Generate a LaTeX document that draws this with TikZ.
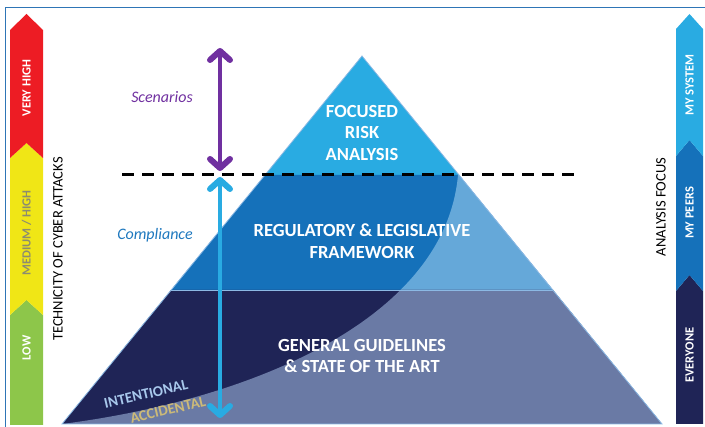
\documentclass[tikz,border=0pt]{standalone}
\usepackage{fontspec}
\setmainfont{Carlito}
\usepackage{tikz}
\usetikzlibrary{arrows.meta}
\usetikzlibrary{positioning}
\definecolor{framecol}{RGB}{46,117,182}
\definecolor{skyblue}{RGB}{41,171,226}
\definecolor{midblue}{RGB}{21,113,186}
\definecolor{midlight}{RGB}{101,168,217}
\definecolor{navy}{RGB}{31,36,86}
\definecolor{navylight}{RGB}{106,122,165}
\definecolor{edgecol}{RGB}{140,185,228}
\definecolor{barred}{RGB}{237,28,36}
\definecolor{baryellow}{RGB}{240,230,22}
\definecolor{bargreen}{RGB}{141,198,74}
\definecolor{medgray}{RGB}{140,140,112}
\definecolor{scencol}{RGB}{112,48,160}
\definecolor{compblue}{RGB}{30,120,190}
\definecolor{intcol}{RGB}{168,200,236}
\definecolor{acccol}{RGB}{204,186,120}
\tikzstyle{every node}+=[inner sep=0pt]
\tikzstyle{layer} = [text=white, align=center, font=\bfseries\fontsize{18.5}{21.5}\selectfont]
\tikzstyle{barlabel} = [rotate=90, text=white, font=\bfseries\fontsize{12.5}{14}\selectfont]
\tikzstyle{axis} = [rotate=90, font=\fontsize{14.5}{17}\selectfont]
\tikzstyle{note} = [font=\itshape\fontsize{16}{18}\selectfont]
\tikzstyle{cause} = [rotate=13, font=\bfseries\fontsize{15}{18}\selectfont]
\tikzstyle{spanarrow} = [draw, line width=4pt, {Straight Barb[length=9pt,width=20pt,line width=6pt,round]}-{Straight Barb[length=9pt,width=20pt,line width=6pt,round]}]

\begin{document}
\begin{tikzpicture}[x=1pt, y=-1pt]
            \useasboundingbox (0,0) rectangle (705,427);
            % Frame
            \draw [framecol, line width=1pt] (5,427) -- (5,8) -- (705,8);
            % Left bar
            \fill [bargreen] (10,315) -- (26.5,300) -- (43,315) -- (43,425) -- (10,425) -- cycle;
            \fill [baryellow] (10,158) -- (26.5,143) -- (43,158) -- (43,315) -- (26.5,300) -- (10,315) -- cycle;
            \fill [barred] (10,30) -- (26.5,14) -- (43,30) -- (43,158) -- (26.5,143) -- (10,158) -- cycle;
            % Right bar
            \fill [navy] (676,291) -- (689.5,275) -- (703,291) -- (703,424) -- (676,424) -- cycle;
            \fill [midblue] (676,156) -- (689.5,140) -- (703,156) -- (703,291) -- (689.5,275) -- (676,291) -- cycle;
            \fill [skyblue] (676,29) -- (689.5,14) -- (703,29) -- (703,156) -- (689.5,140) -- (676,156) -- cycle;
            % Pyramid layers
            \fill [skyblue] (362,56) -- (459,175) -- (265,175) -- cycle;
            \begin{scope}
              \clip (265,175) -- (459,175) -- (553,290) -- (171,290) -- cycle;
              \fill [midblue] (0,0) rectangle (705,427);
              \fill [midlight] (62,424) .. controls (250,400) and (445,320) .. (458,175) -- (705,175) -- (705,424) -- cycle;
            \end{scope}
            \begin{scope}
              \clip (171,290) -- (553,290) -- (662,424) -- (62,424) -- cycle;
              \fill [navy] (0,0) rectangle (705,427);
              \fill [navylight] (62,424) .. controls (250,400) and (445,320) .. (458,175) -- (705,175) -- (705,424) -- cycle;
            \end{scope}
            \draw [edgecol, line width=0.8pt] (362,56) -- (662,424) -- (62,424) -- cycle;
            \draw [edgecol, line width=0.8pt] (171,290) -- (553,290);
            % Place nodes
            \node [layer] (focus) at (362,133) {FOCUSED\\RISK\\ANALYSIS};
            \node [layer] (frame) at (362,241) {REGULATORY \& LEGISLATIVE\\FRAMEWORK};
            \node [layer] (general) at (362,356) {GENERAL GUIDELINES\\\& STATE OF THE ART};
            \node [cause, text=intcol] (intent) at (146,394) {INTENTIONAL};
            \node [cause, text=acccol] (accid) at (168,410) {ACCIDENTAL};
            \node [note, text=scencol] (scen) at (162,97) {Scenarios};
            \node [note, text=compblue] (comp) at (155,235) {Compliance};
            \node [barlabel] (vhigh) at (26.5,88) {VERY HIGH};
            \node [barlabel, text=medgray] (medium) at (26.5,233) {MEDIUM / HIGH};
            \node [barlabel] (low) at (26.5,348) {LOW};
            \node [axis] (techn) at (58,249) {TECHNICITY OF CYBER ATTACKS};
            \node [barlabel] (mysys) at (689.5,85) {MY SYSTEM};
            \node [barlabel] (peers) at (689.5,213) {MY PEERS};
            \node [barlabel] (every) at (689.5,355) {EVERYONE};
            \node [axis] (focusax) at (661,207) {ANALYSIS FOCUS};
            \coordinate (dashl) at (122,175);
            \coordinate (dashr) at (575,175);
            \coordinate (scentop) at (220,48);
            \coordinate (scenbot) at (220,171);
            \coordinate (comptop) at (220,177);
            \coordinate (compbot) at (220,418);
            % Draw edges
            \draw [line width=3pt, dash pattern=on 12pt off 8pt] (dashl) -- (dashr);
            \path [spanarrow, scencol] (scentop) -- (scenbot);
            \path [spanarrow, skyblue] (comptop) -- (compbot);
          \end{tikzpicture}
\end{document}
